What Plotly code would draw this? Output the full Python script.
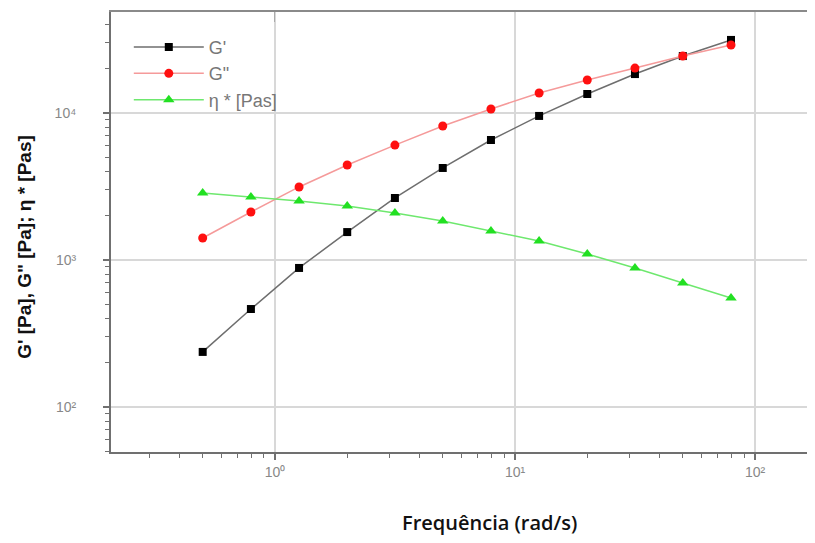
import plotly.graph_objects as go

freq = [0.5, 0.794, 1.26, 2.0, 3.16, 5.0, 7.94, 12.6, 20.0, 31.6, 50.0, 79.4]
g_storage = [237, 464, 883, 1549, 2642, 4227, 6550, 9550, 13470, 18400, 24400, 31400]
g_loss = [1412, 2122, 3140, 4430, 6050, 8160, 10650, 13680, 16770, 20200, 24400, 29000]
eta = [2860, 2684, 2520, 2330, 2089, 1842, 1574, 1346, 1099, 883, 698, 551]

names = ["G'", "G\"", "η * [Pas]"]
x_major = [1, 10, 100]
x_major_text = ["10⁰", "10¹", "10²"]
y_major = [100, 1000, 10000]
y_major_text = ["10²", "10³", "10⁴"]

x_minor = [m * d for d in [0.1, 1, 10, 100] for m in range(2, 10)]
y_minor = [m * d for d in [10, 100, 1000, 10000] for m in range(2, 10)]

fig = go.Figure()
fig.add_trace(go.Scatter(x=freq, y=g_storage, name=names[0], mode="lines+markers",
                         line=dict(color="#6e6e6e", width=1.5),
                         marker=dict(symbol="square", color="black", size=8)))
fig.add_trace(go.Scatter(x=freq, y=g_loss, name=names[1], mode="lines+markers",
                         line=dict(color="#f59a9a", width=1.5),
                         marker=dict(symbol="circle", color="#ff1010", size=9)))
fig.add_trace(go.Scatter(x=freq, y=eta, name=names[2], mode="lines+markers",
                         line=dict(color="#6ee86e", width=1.5),
                         marker=dict(symbol="triangle-up", color="#22e022", size=10)))
# invisible trace to host top axis
fig.add_trace(go.Scatter(x=[freq[0]], y=[eta[0]], xaxis="x2", showlegend=False,
                         mode="markers", marker=dict(opacity=0), hoverinfo="skip"))

xr = [-0.683, 2.283]
fig.update_layout(
    width=815, height=543,
    paper_bgcolor="white", plot_bgcolor="white",
    margin=dict(l=103, r=0, t=4, b=99),
    showlegend=True,
    legend=dict(x=0.025, y=0.962, xanchor="left", yanchor="top",
                bgcolor="rgba(0,0,0,0)", font=dict(family="Liberation Sans, Arial", size=18, color="#777777"),
                tracegroupgap=0, itemwidth=70),
    xaxis=dict(type="log", range=xr, showgrid=True, gridcolor="#d8d8d8", gridwidth=1.5,
               tickvals=x_major, ticktext=x_major_text, automargin=False,
               showline=True, linecolor="#707070", linewidth=2,
               ticks="outside", ticklen=6, tickwidth=1.5, tickcolor="#707070",
               minor=dict(tickvals=x_minor, ticks="outside", ticklen=4, tickcolor="#707070",
                          tickwidth=1.2, showgrid=False),
               tickfont=dict(family="Liberation Sans, Arial", size=14, color="#888888"),
               zeroline=False),
    xaxis2=dict(type="log", range=xr, overlaying="x", side="top", automargin=False,
                showline=True, linecolor="#8a8a8a", linewidth=2, showgrid=False,
                tickvals=[1], ticktext=[""], ticks="inside", ticklen=10, tickcolor="#aaaaaa",
                showticklabels=False),
    yaxis=dict(type="log", range=[1.694, 4.687], showgrid=True, gridcolor="#d8d8d8", gridwidth=1.5,
               tickvals=y_major, ticktext=y_major_text, automargin=False,
               showline=True, linecolor="#707070", linewidth=2,
               ticks="outside", ticklen=6, tickwidth=1.5, tickcolor="#707070",
               ticklabelstandoff=24,
               minor=dict(tickvals=y_minor, ticks="outside", ticklen=4, tickcolor="#707070",
                          tickwidth=1.2, showgrid=False),
               tickfont=dict(family="Liberation Sans, Arial", size=14, color="#888888"),
               zeroline=False),
    annotations=[
        dict(text="Frequência (rad/s)", xref="paper", yref="paper", x=0.532, y=-0.161,
             xanchor="center", yanchor="middle", showarrow=False,
             font=dict(family="Open Sans", size=20, color="#111111", weight=600)),
        dict(text="G' [Pa], G\" [Pa]; η * [Pas]", xref="paper", yref="paper", x=-0.121, y=0.466,
             xanchor="center", yanchor="middle", showarrow=False, textangle=-90,
             font=dict(family="Liberation Sans, Arial", size=19, color="#111111", weight="bold")),
    ],
)

fig.write_html("out.html")
